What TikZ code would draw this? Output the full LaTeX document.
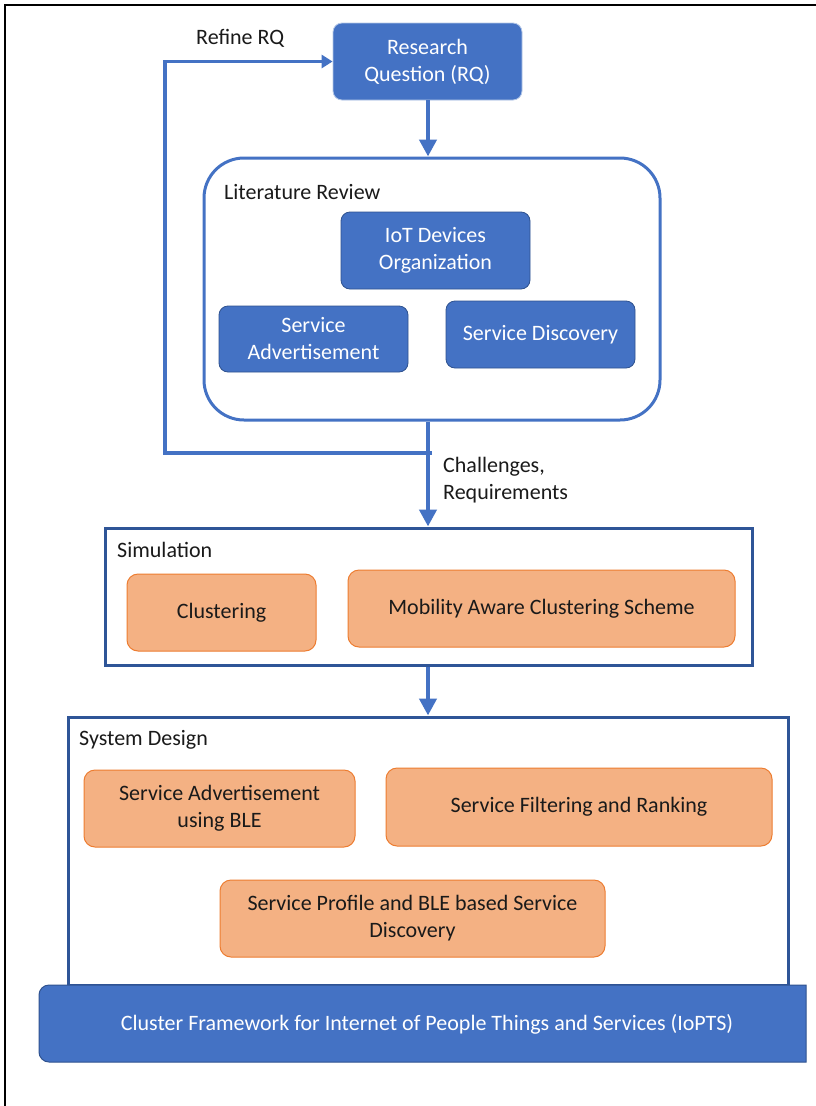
\documentclass[tikz,border=0pt]{standalone}
\usepackage{fontspec}
\setmainfont{Carlito}
\usetikzlibrary{arrows.meta}
\definecolor{blu}{HTML}{4472C4}
\definecolor{dblu}{HTML}{2F5597}
\definecolor{bord}{HTML}{2F528F}
\definecolor{org}{HTML}{F4B183}
\definecolor{dorg}{HTML}{ED7D31}
\definecolor{ink}{HTML}{1A1A1A}
\begin{document}
\begin{tikzpicture}[x=1pt,y=-1pt,
  txt/.style={font=\fontsize{22}{27}\selectfont},
  bluebox/.style={txt,rectangle,rounded corners=9pt,fill=blu,draw=bord,line width=0.8pt,text=white,align=center,inner sep=0pt},
  orgbox/.style={txt,rectangle,rounded corners=11pt,fill=org,draw=dorg,line width=1pt,text=ink,align=center,inner sep=0pt},
  group/.style={rectangle,draw=dblu,line width=3pt,fill=white,inner sep=0pt},
  lbl/.style={txt,text=ink,anchor=west,inner sep=0pt},
  flow/.style={draw=blu,line width=4.5pt,-{Triangle[width=17pt,length=17pt]}},
  back/.style={draw=blu,line width=3.5pt,-{Triangle[width=13pt,length=11pt]}}]
\useasboundingbox (0,0) rectangle (816,1106);
\fill[white] (0,0) rectangle (816,1106);
% outer frame
\draw[black,line width=2pt] (5,1106) -- (5,5) -- (816,5);

% research question
\node[bluebox,draw=blu!40,minimum width=189pt,minimum height=77pt] (rq) at (427.5,61.5) {Research\\Question (RQ)};

% literature review
\node[rectangle,draw=blu,line width=3pt,rounded corners=40pt,fill=white,minimum width=456pt,minimum height=262pt] (lit) at (432,289) {};
\node[lbl] (litlbl) at (224,192) {Literature Review};
\node[bluebox,minimum width=189pt,minimum height=77pt] (iot) at (435.5,250.5) {IoT Devices\\Organization};
\node[bluebox,minimum width=189pt,minimum height=66pt] (sadv) at (313.5,339) {Service\\Advertisement};
\node[bluebox,minimum width=189pt,minimum height=67pt] (sdisc) at (540.5,334.5) {Service Discovery};

% simulation
\node[group,minimum width=647pt,minimum height=137pt] (sim) at (428.5,596.5) {};
\node[lbl] (simlbl) at (117,550) {Simulation};
\node[orgbox,minimum width=189pt,minimum height=77pt] (clus) at (221.5,612.5) {Clustering};
\node[orgbox,minimum width=387pt,minimum height=77pt] (macs) at (541.5,608.5) {Mobility Aware Clustering Scheme};

% system design
\node[group,minimum width=720pt,minimum height=268pt] (sys) at (428,851) {};
\node[lbl] (syslbl) at (79,740) {System Design};
\node[orgbox,minimum width=271pt,minimum height=77pt] (sab) at (219.5,808.5) {Service Advertisement\\using BLE};
\node[orgbox,minimum width=386pt,minimum height=78pt] (sfr) at (579,807) {Service Filtering and Ranking};
\node[orgbox,minimum width=385pt,minimum height=77pt] (spd) at (412.5,918.5) {Service Profile and BLE based Service\\Discovery};

% framework bar
\path[fill=blu,draw=bord,line width=1pt] (806,985) [rounded corners=10pt] -- (39,985) -- (39,1062) [sharp corners] -- (806,1062) -- cycle;
\node[txt,text=white,inner sep=0pt] (bar) at (427,1024) {Cluster Framework for Internet of People Things and Services (IoPTS)};

% connectors
\coordinate (top) at (428,100);
\draw[flow] (top) -- (top |- lit.north);
\coordinate (j) at (428,453);
\coordinate (fb) at (165,453);
\draw[draw=blu,line width=4.5pt] (top |- lit.south) -- (j);
\draw[flow] (j) -- (j |- sim.north);
\draw[back] (432,453) -- (fb) -- (fb |- rq.west) -- (rq.west);
\draw[flow] (top |- sim.south) -- (top |- sys.north);

% labels
\node[lbl] (refine) at (196,38) {Refine RQ};
\node[lbl,align=left] (chal) at (443,480.5) {Challenges,\\Requirements};
\end{tikzpicture}
\end{document}
